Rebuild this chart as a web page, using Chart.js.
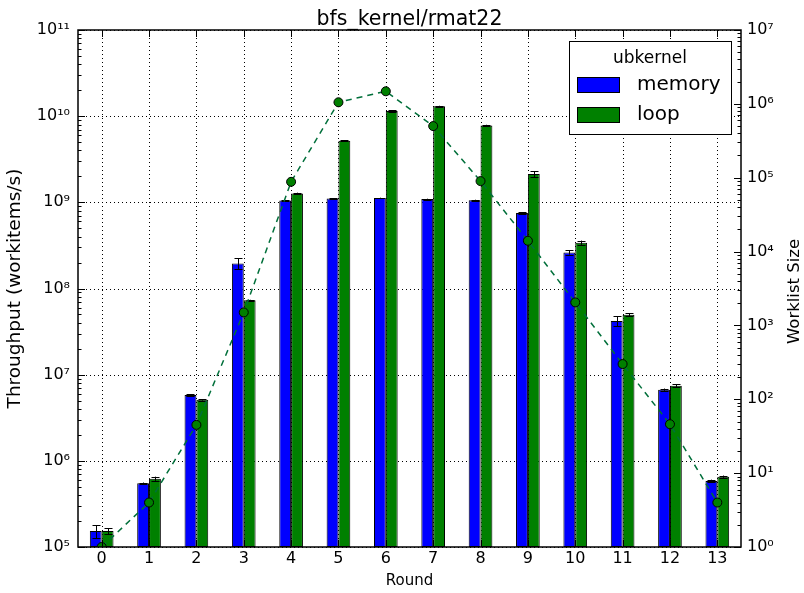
<!DOCTYPE html>
<html>
<head>
<meta charset="utf-8">
<script src="https://cdn.jsdelivr.net/npm/chart.js@4"></script>
<style>
  html, body { margin: 0; padding: 0; background: #fff; }
</style>
</head>
<body>
<canvas id="myChart" width="804" height="593"></canvas>
<script>
// data
const rounds = [0, 1, 2, 3, 4, 5, 6, 7, 8, 9, 10, 11, 12, 13]
const memory = [1.53e5, 5.5e5, 5.8e6, 1.95e8, 1.05e9, 1.11e9, 1.12e9, 1.09e9, 1.06e9, 7.5e8, 2.62e8, 4.2e7, 6.7e6, 5.85e5]
const memoryErr = [2.6e4, 1e4, 1e5, 2.8e7, 1.5e7, 1.2e7, 1.2e7, 1.2e7, 1.2e7, 1.5e7, 1.5e7, 5.5e6, 2e5, 2e4]
const loop = [1.53e5, 6.2e5, 5.1e6, 7.3e7, 1.27e9, 5.2e9, 1.15e10, 1.3e10, 7.8e9, 2.13e9, 3.4e8, 4.95e7, 7.45e6, 6.55e5]
const loopErr = [1.2e4, 3.5e4, 1e5, 1e6, 2.5e7, 8e7, 2e8, 2e8, 1.5e8, 1.8e8, 2e7, 2e6, 3e5, 2e4]
const worklist = [1, 4, 45, 1500, 88000, 1.05e6, 1.48e6, 5e5, 9e4, 1.4e4, 2050, 300, 46, 4]

const leftTicks = [1e5, 1e6, 1e7, 1e8, 1e9, 1e10, 1e11]
const rightTicks = [1e0, 1e1, 1e2, 1e3, 1e4, 1e5, 1e6, 1e7]

const titleText = 'bfs_kernel/rmat22'
const legendTitle = 'ubkernel'
const rightTitle = 'Worklist Size'

const sup = {'0':'⁰','1':'¹','2':'²','3':'³','4':'⁴','5':'⁵','6':'⁶','7':'⁷','8':'⁸','9':'⁹'}
const powLabel = v => '10' + String(Math.round(Math.log10(v))).split('').map(c => sup[c]).join('')

const FONT = 'DejaVu Sans'

// error bars on top of each bar dataset
const errorBars = {
  id: 'errorBars',
  afterDatasetDraw(chart, args) {
    const ds = chart.data.datasets[args.index]
    if (!ds.err) return
    const ctx = chart.ctx
    const y = chart.scales[ds.yAxisID]
    const area = chart.chartArea
    ctx.save()
    ctx.beginPath()
    ctx.rect(area.left, area.top, area.right - area.left, area.bottom - area.top)
    ctx.clip()
    ctx.strokeStyle = '#000'
    ctx.lineWidth = 1
    args.meta.data.forEach((bar, i) => {
      const v = ds.data[i].y
      const e = ds.err[i]
      const top = y.getPixelForValue(v + e)
      const bot = y.getPixelForValue(Math.max(v - e, y.min))
      const x = Math.round(bar.x) + 0.5
      ctx.beginPath()
      ctx.moveTo(x, top); ctx.lineTo(x, bot)
      ctx.moveTo(x - 4, Math.round(top) + 0.5); ctx.lineTo(x + 4, Math.round(top) + 0.5)
      ctx.moveTo(x - 4, Math.round(bot) + 0.5); ctx.lineTo(x + 4, Math.round(bot) + 0.5)
      ctx.stroke()
    })
    ctx.restore()
  }
}

// dotted grid under the bars
const gridLines = {
  id: 'gridLines',
  beforeDatasetsDraw(chart) {
    const {ctx, chartArea: a, scales} = chart
    ctx.save()
    ctx.strokeStyle = '#000'
    ctx.lineWidth = 1
    ctx.setLineDash([1, 3])
    rounds.forEach(r => {
      const x = Math.round(scales.x.getPixelForValue(r)) + 0.5
      ctx.beginPath(); ctx.moveTo(x, a.top); ctx.lineTo(x, a.bottom); ctx.stroke()
    })
    leftTicks.forEach(v => {
      const y = Math.round(scales.y.getPixelForValue(v)) + 0.5
      ctx.beginPath(); ctx.moveTo(a.left, y); ctx.lineTo(a.right, y); ctx.stroke()
    })
    ctx.restore()
  }
}

// frame, inward ticks, titles and legend
const frame = {
  id: 'frame',
  afterDraw(chart) {
    const {ctx, chartArea: a, scales} = chart
    ctx.save()
    ctx.strokeStyle = '#000'
    ctx.lineWidth = 1

    const logTicks = (scale, side) => {
      for (let d = Math.log10(scale.min); d < Math.log10(scale.max) + 0.5; d++) {
        for (let m = 1; m <= 9; m++) {
          const v = m * Math.pow(10, d)
          if (v > scale.max * 1.0001) break
          const y = Math.round(scale.getPixelForValue(v)) + 0.5
          const len = m === 1 ? 7 : 3.5
          ctx.beginPath()
          if (side === 'left') { ctx.moveTo(a.left, y); ctx.lineTo(a.left + len, y) }
          else { ctx.moveTo(a.right, y); ctx.lineTo(a.right - len, y) }
          ctx.stroke()
        }
      }
    }
    logTicks(scales.y, 'left')
    logTicks(scales.y1, 'right')
    rounds.forEach(r => {
      const x = Math.round(scales.x.getPixelForValue(r)) + 0.5
      ctx.beginPath()
      ctx.moveTo(x, a.bottom); ctx.lineTo(x, a.bottom - 7)
      ctx.moveTo(x, a.top); ctx.lineTo(x, a.top + 7)
      ctx.stroke()
    })

    ctx.lineWidth = 1.5
    ctx.strokeRect(a.left, a.top, a.right - a.left, a.bottom - a.top)

    // title
    ctx.fillStyle = '#000'
    ctx.font = '20.5px "' + FONT + '"'
    ctx.textAlign = 'center'
    ctx.textBaseline = 'alphabetic'
    ctx.fillText(titleText, (a.left + a.right) / 2, 25)

    // right axis title, reads bottom to top
    ctx.save()
    ctx.translate(795, (a.top + a.bottom) / 2 + 3)
    ctx.rotate(-Math.PI / 2)
    ctx.font = '16.5px "' + FONT + '"'
    ctx.textBaseline = 'middle'
    ctx.fillText(rightTitle, 0, 0)
    ctx.restore()

    // legend
    const lx = a.right - 172, ly = a.top + 11, lw = 162, lh = 93
    ctx.fillStyle = '#fff'
    ctx.fillRect(lx, ly, lw, lh)
    ctx.lineWidth = 1
    ctx.strokeRect(lx + 0.5, ly + 0.5, lw, lh)
    ctx.fillStyle = '#000'
    ctx.font = '17px "' + FONT + '"'
    ctx.fillText(legendTitle, lx + lw / 2, ly + 22)
    const entries = chart.data.datasets.filter(ds => ds.type === 'bar')
    entries.forEach((ds, i) => {
      const py = ly + 36 + i * 30
      ctx.fillStyle = ds.backgroundColor
      ctx.fillRect(lx + 8, py, 42, 15)
      ctx.strokeRect(lx + 8.5, py + 0.5, 42, 15)
      ctx.fillStyle = '#000'
      ctx.font = '20px "' + FONT + '"'
      ctx.textAlign = 'left'
      ctx.textBaseline = 'middle'
      ctx.fillText(ds.label, lx + 68, py + 8)
    })
    ctx.restore()
  }
}

const data = {
  datasets: [
    {
      type: 'line',
      label: 'worklist',
      data: rounds.map((r, i) => ({x: r, y: worklist[i]})),
      xAxisID: 'x',
      yAxisID: 'y1',
      borderColor: '#006f3a',
      borderWidth: 1.5,
      borderDash: [6, 5],
      pointRadius: 4.5,
      pointBackgroundColor: '#008000',
      pointBorderColor: '#000',
      pointBorderWidth: 1,
      tension: 0,
      fill: false,
      clip: 0,
      order: 0
    },
    {
      type: 'bar',
      label: 'memory',
      data: rounds.map((r, i) => ({x: r, y: memory[i]})),
      err: memoryErr,
      xAxisID: 'x',
      yAxisID: 'y',
      backgroundColor: '#0000ff',
      borderColor: '#000',
      borderWidth: 1,
      borderSkipped: false,
      categoryPercentage: 0.5,
      barPercentage: 1,
      order: 1
    },
    {
      type: 'bar',
      label: 'loop',
      data: rounds.map((r, i) => ({x: r, y: loop[i]})),
      err: loopErr,
      xAxisID: 'x',
      yAxisID: 'y',
      backgroundColor: '#008000',
      borderColor: '#000',
      borderWidth: 1,
      borderSkipped: false,
      categoryPercentage: 0.5,
      barPercentage: 1,
      order: 1
    }
  ]
}

const config = {
  type: 'bar',
  data: data,
  options: {
    responsive: false,
    animation: false,
    devicePixelRatio: 1,
    layout: { padding: { top: 30, left: 0, right: 0, bottom: 0 } },
    plugins: { legend: { display: false }, tooltip: { enabled: false }, title: { display: false } },
    scales: {
      x: {
        type: 'linear',
        offset: false,
        min: -0.5,
        max: 13.5,
        afterBuildTicks: s => { s.ticks = rounds.map(v => ({value: v})) },
        afterFit: s => { s.height = 46 },
        grid: { display: false, drawTicks: false, offset: false },
        border: { display: false },
        ticks: { color: '#000', font: { family: FONT, size: 16 }, padding: 2, maxRotation: 0, autoSkip: false },
        title: { display: true, text: 'Round', color: '#000', font: { family: FONT, size: 15 }, padding: { top: 0, bottom: 3 } }
      },
      y: {
        type: 'logarithmic',
        position: 'left',
        min: 1e5,
        max: 1e11,
        afterBuildTicks: s => { s.ticks = leftTicks.map(v => ({value: v})) },
        afterFit: s => { s.width = 78 },
        grid: { display: false, drawTicks: false },
        border: { display: false },
        ticks: { color: '#000', font: { family: FONT, size: 16 }, padding: 8, autoSkip: false, callback: v => powLabel(v) },
        title: { display: true, text: 'Throughput (workitems/s)', color: '#000', font: { family: FONT, size: 18.5 }, padding: { top: 4, bottom: 0 } }
      },
      y1: {
        type: 'logarithmic',
        position: 'right',
        min: 1,
        max: 1e7,
        afterBuildTicks: s => { s.ticks = rightTicks.map(v => ({value: v})) },
        afterFit: s => { s.width = 63 },
        grid: { display: false, drawTicks: false },
        border: { display: false },
        ticks: { color: '#000', font: { family: FONT, size: 16 }, padding: 6, autoSkip: false, callback: v => powLabel(v) },
        title: { display: false }
      }
    }
  },
  plugins: [gridLines, errorBars, frame]
}

const myChart = new Chart(document.getElementById('myChart'), config)
</script>
</body>
</html>
